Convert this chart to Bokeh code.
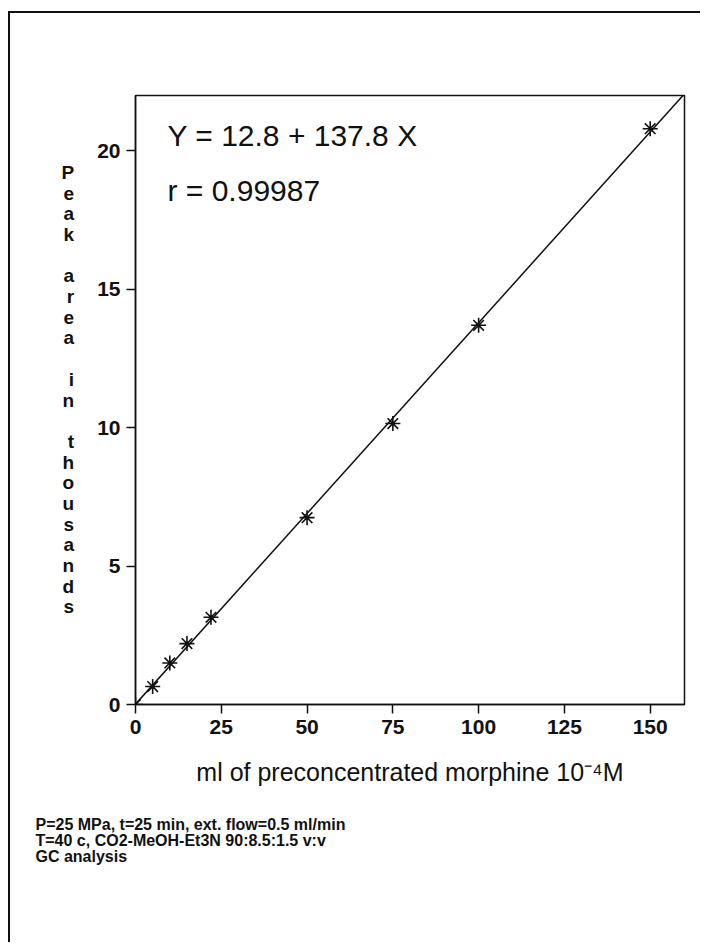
from bokeh.plotting import figure
from bokeh.models import Label, Range1d, FixedTicker, Title
from bokeh.embed import file_html
from bokeh.resources import INLINE

# Calibration data: volume of preconcentrated morphine vs GC peak area (thousands)
volume_ml = [0, 5, 10, 15, 22, 50, 75, 100, 150]
peak_area_k = [0.0, 0.65, 1.5, 2.2, 3.15, 6.75, 10.15, 13.7, 20.8]

# Least-squares fit as printed on the chart (peak area in raw units)
fit_intercept = 12.8
fit_slope = 137.8
fit_r = 0.99987

x_ticks = [0, 25, 50, 75, 100, 125, 150]
y_ticks = [0, 5, 10, 15, 20]
x_title = "ml of preconcentrated morphine 10\u207b\u2074M"
y_title = "Peak area in thousands"
notes = [
    "P=25 MPa, t=25 min, ext. flow=0.5 ml/min",
    "T=40 c, CO2-MeOH-Et3N 90:8.5:1.5 v:v",
    "GC analysis",
]

# page border sits at (8, 11); the canvas starts just inside it
BX, BY, BW = 8, 11, 2
CX, CY = BX + BW, BY + BW
PAGE_W, PAGE_H = 702, 944
W, H = PAGE_W - CX, PAGE_H - CY
LEFT, RIGHT, TOP, BOTTOM = 135, 684, 95, 704
X0, X1, Y0, Y1 = 0, 160, 0, 22

p = figure(width=W, height=H, output_backend="svg", toolbar_location=None,
           x_range=Range1d(X0, X1), y_range=Range1d(Y0, Y1),
           min_border_left=LEFT - CX, min_border_right=PAGE_W - RIGHT,
           min_border_top=TOP - CY, min_border_bottom=PAGE_H - BOTTOM,
           margin=(CY, 0, 0, CX),
           styles={"box-shadow": f"-{BW}px -{BW}px 0 0 #111111"})
p.grid.visible = False
p.background_fill_color = "white"
p.border_fill_color = "white"
p.outline_line_color = "#111111"
p.outline_line_width = 1.5

FONT = "Liberation Sans"
for ax, ticks in ((p.xaxis, x_ticks), (p.yaxis, y_ticks)):
    ax.ticker = FixedTicker(ticks=ticks)
    ax.axis_line_color = "#111111"
    ax.axis_line_width = 1.5
    ax.major_tick_line_color = "#111111"
    ax.major_tick_line_width = 1.5
    ax.major_tick_in = 0
    ax.major_tick_out = 9
    ax.minor_tick_line_color = None
    ax.major_label_text_font = FONT
    ax.major_label_text_font_size = "21px"
    ax.major_label_text_font_style = "bold"
    ax.major_label_text_color = "#111111"
    ax.major_label_standoff = 6

p.xaxis.axis_label = x_title
p.xaxis.axis_label_text_font = FONT
p.xaxis.axis_label_text_font_size = "25px"
p.xaxis.axis_label_text_font_style = "normal"
p.xaxis.axis_label_text_color = "#111111"
p.xaxis.axis_label_standoff = 21

# y title stacked one letter per line (trailing blank line lifts the block)
p.yaxis.axis_label = "\n".join(list(y_title) + [" "])
p.yaxis.axis_label_orientation = "horizontal"
p.yaxis.axis_label_text_font = FONT
p.yaxis.axis_label_text_font_size = "19px"
p.yaxis.axis_label_text_font_style = "bold"
p.yaxis.axis_label_text_color = "#111111"
p.yaxis.axis_label_text_line_height = 0.985
p.yaxis.axis_label_standoff = 20

# fitted line
fx = [X0, (Y1 * 1000 - fit_intercept) / fit_slope]
fy = [(fit_intercept + fit_slope * v) / 1000 for v in fx]
p.line(fx, fy, line_color="#111111", line_width=1.5)

# measured points
p.scatter(volume_ml, peak_area_k, marker="asterisk", size=15,
          line_color="#111111", line_width=1.6)

# equation and correlation coefficient, placed by pixel offset inside the frame
sx = (RIGHT - LEFT) / (X1 - X0)
sy = (BOTTOM - TOP) / (Y1 - Y0)
eq_text = f"Y = {fit_intercept} + {fit_slope} X"
r_text = f"r = {fit_r}"
for txt, py in ((eq_text, 135), (r_text, 190)):
    p.add_layout(Label(x=X0 + (167 - LEFT) / sx, y=Y0 + (BOTTOM - py) / sy,
                       text=txt, text_font=FONT, text_font_size="30px",
                       text_color="#111111", text_baseline="middle",
                       text_align="left"))

# experimental conditions below the axis title
p.add_layout(Title(text="\n".join(notes), align="left", offset=35 - LEFT,
                   text_font=FONT, text_font_size="16px", text_font_style="bold",
                   text_color="#111111", text_line_height=0.97, standoff=50),
             "below")

open("out.html", "w").write(file_html(p, INLINE))
